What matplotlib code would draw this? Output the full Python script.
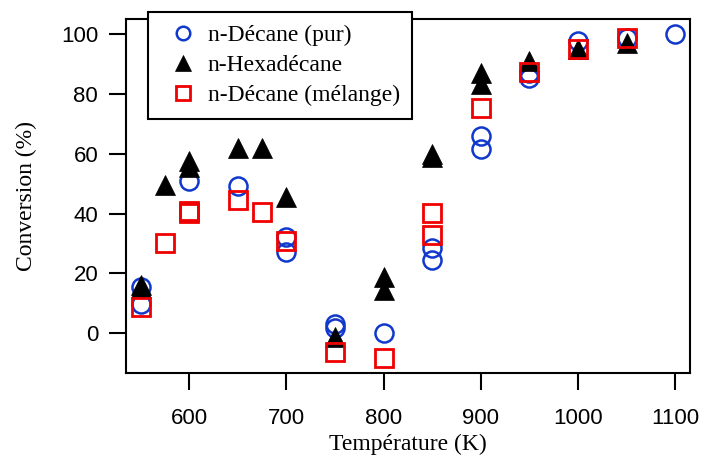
import matplotlib
matplotlib.use("Agg")
import matplotlib.pyplot as plt

# n-Decane (pur)
x_pur = [550, 550, 600, 650, 700, 700, 750, 750, 800, 850, 850, 900, 900, 950, 950, 1000, 1050, 1100]
y_pur = [15.3, 9.7, 51, 49.3, 32.3, 27.1, 3.2, 1.7, 0, 28.4, 24.6, 66, 61.6, 87.1, 85.2, 97.7, 98.8, 100]

# n-Hexadecane
x_hex = [550, 550, 575, 600, 600, 650, 675, 700, 750, 800, 800, 850, 850, 900, 900, 950, 1000, 1050]
y_hex = [16, 15, 49.5, 57.5, 55.5, 62, 62, 45.5, -1.2, 18.8, 14.6, 60, 59, 87, 83.2, 91, 95, 97.1]

# n-Decane (melange)
x_mel = [550, 575, 600, 600, 650, 675, 700, 750, 800, 850, 850, 900, 950, 1000, 1050]
y_mel = [8.6, 30.2, 41, 40.2, 44.6, 40.4, 30.8, -6.4, -8.4, 40.2, 32.7, 75.2, 87.3, 94.9, 98.6]

labels = ["n-Décane (pur)", "n-Hexadécane", "n-Décane (mélange)"]
x_ticks = [600, 700, 800, 900, 1000, 1100]
y_ticks = [0, 20, 40, 60, 80, 100]

serif = "Liberation Serif"
sans = "Liberation Sans"

fig = plt.figure(figsize=(7.04, 4.58), dpi=100)
ax = fig.add_axes([0.179, 0.1856, 0.801, 0.7729])

ax.plot(x_pur, y_pur, ls="none", marker="o", ms=13, mfc="none", mec="#1038cc", mew=1.8, label=labels[0])
ax.plot(x_hex, y_hex, ls="none", marker="^", ms=15, mfc="black", mec="black", mew=0.5, label=labels[1])
ax.plot(x_mel, y_mel, ls="none", marker="s", ms=12.5, mfc="none", mec="#f00000", mew=2, label=labels[2])

ax.set_xlim(535, 1115)
ax.set_ylim(-13.3, 105)
ax.set_xticks(x_ticks)
ax.set_yticks(y_ticks)
ax.tick_params(axis="both", direction="out", length=12, width=1.5, labelsize=16, colors="black")
ax.tick_params(axis="y", pad=8)
ax.tick_params(axis="x", pad=13)
for lab in ax.get_xticklabels() + ax.get_yticklabels():
    lab.set_fontfamily(sans)
for sp in ax.spines.values():
    sp.set_linewidth(1.5)

ax.set_xlabel("Température (K)", fontfamily=serif, fontsize=17, labelpad=4)
ax.set_ylabel("Conversion (%)", fontfamily=serif, fontsize=17, labelpad=17)

leg = ax.legend(loc="upper left", bbox_to_anchor=(0.210, 0.974), bbox_transform=fig.transFigure,
                borderaxespad=0, fancybox=False, framealpha=1, edgecolor="black",
                prop={"family": serif, "size": 17}, handletextpad=0.1, labelspacing=0.37,
                borderpad=0.53, handlelength=1.9, markerscale=0.75)
leg.get_frame().set_linewidth(1.5)
leg.set_zorder(5)

fig.savefig("out.png", dpi=100)
